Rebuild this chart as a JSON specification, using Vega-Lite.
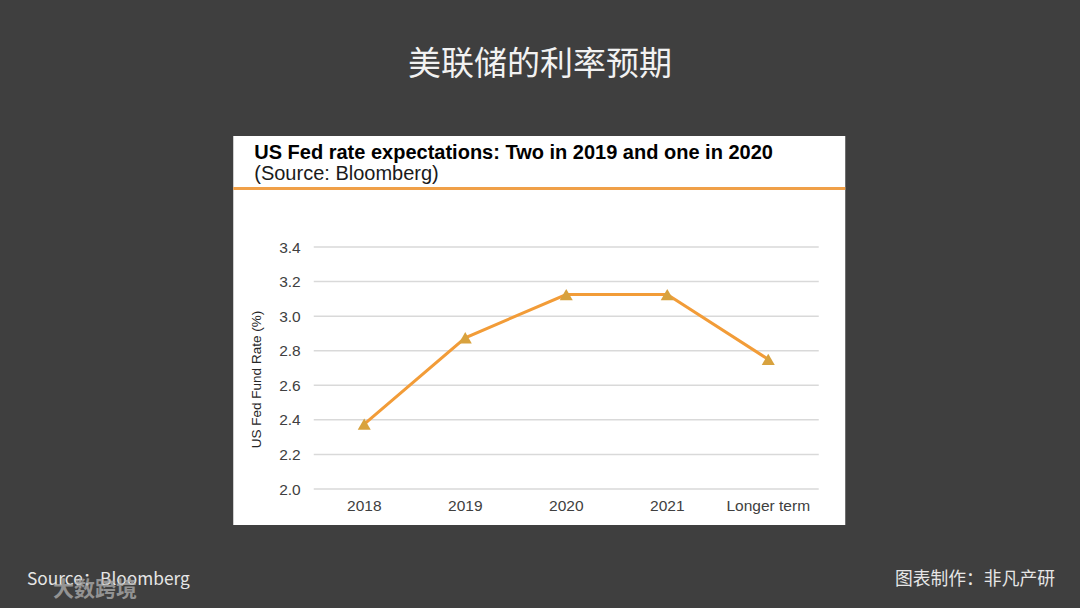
{
  "$schema": "https://vega.github.io/schema/vega-lite/v6.json",
  "background": "#3f3f3f",
  "padding": {"top": 49, "left": 0, "right": 0, "bottom": 20},
  "title": {
    "text": "美联储的利率预期",
    "font": "Noto Sans CJK SC",
    "fontSize": 33,
    "fontWeight": "normal",
    "color": "#f2f2f2",
    "anchor": "middle",
    "offset": 54
  },
  "datasets": {
    "rates": [
      {"period": "2018", "rate": 2.375},
      {"period": "2019", "rate": 2.875},
      {"period": "2020", "rate": 3.125},
      {"period": "2021", "rate": 3.125},
      {"period": "Longer term", "rate": 2.75}
    ],
    "grid": [
      {"level": 2.0}, {"level": 2.2}, {"level": 2.4}, {"level": 2.6},
      {"level": 2.8}, {"level": 3.0}, {"level": 3.2}, {"level": 3.4}
    ],
    "footer": [
      {"side": "left", "label": "Source：Bloomberg"},
      {"side": "right", "label": "图表制作：非凡产研"}
    ]
  },
  "spacing": 45,
  "center": true,
  "vconcat": [
    {
      "width": 612,
      "height": 389,
      "view": {"fill": "#ffffff", "stroke": null},
      "title": {
        "text": "US Fed rate expectations: Two in 2019 and one in 2020",
        "subtitle": "(Source: Bloomberg)",
        "anchor": "start",
        "frame": "group",
        "offset": -48,
        "dx": 21,
        "font": "Liberation Sans",
        "fontSize": 20,
        "fontWeight": "bold",
        "color": "#000000",
        "subtitleFont": "Liberation Sans",
        "subtitleFontSize": 20,
        "subtitleColor": "#1a1a1a",
        "subtitlePadding": 1
      },
      "layer": [
        {
          "data": {"name": "grid"},
          "mark": {"type": "rule", "color": "#d9d9d9", "strokeWidth": 1.5},
          "encoding": {
            "y": {
              "field": "level", "type": "quantitative",
              "scale": {"domain": [2.0, 3.4], "range": [353, 111], "nice": false, "zero": false},
              "axis": {
                "values": [2.0, 2.2, 2.4, 2.6, 2.8, 3.0, 3.2, 3.4],
                "format": ".1f", "offset": -81, "labelPadding": 14,
                "domain": false, "ticks": false, "grid": false,
                "labelFont": "Liberation Sans", "labelFontSize": 15.5, "labelColor": "#404040",
                "title": "US Fed Fund Rate (%)", "titleFont": "Liberation Sans", "titleFontSize": 13.5,
                "titleFontWeight": "normal", "titleColor": "#262626", "titlePadding": 15, "titleY": 243
              }
            },
            "x": {
              "datum": "2018", "type": "nominal", "bandPosition": 0,
              "scale": {"type": "band", "domain": ["2018", "2019", "2020", "2021", "Longer term"], "range": [80.5, 585.5], "paddingInner": 0, "paddingOuter": 0}
            },
            "x2": {"datum": "Longer term", "bandPosition": 1}
          }
        },
        {
          "data": {"values": [{}]},
          "mark": {"type": "rule", "color": "#F0A048", "strokeWidth": 3},
          "encoding": {"y": {"datum": 3.738, "type": "quantitative"}}
        },
        {
          "data": {"name": "rates"},
          "mark": {"type": "line", "color": "#F29C38", "strokeWidth": 3},
          "encoding": {
            "x": {
              "field": "period", "type": "nominal", "bandPosition": 0.5,
              "axis": {
                "offset": -36, "labelPadding": 16, "domain": false, "ticks": false, "grid": false,
                "labelAngle": 0, "labelAlign": "center", "bandPosition": 0.5,
                "labelFont": "Liberation Sans", "labelFontSize": 15.5, "labelColor": "#404040",
                "title": null
              }
            },
            "y": {"field": "rate", "type": "quantitative"}
          }
        },
        {
          "data": {"name": "rates"},
          "mark": {"type": "point", "shape": "triangle-up", "filled": true, "opacity": 1, "color": "#D8A23E", "size": 170},
          "encoding": {
            "x": {"field": "period", "type": "nominal", "bandPosition": 0.5},
            "y": {"field": "rate", "type": "quantitative"}
          }
        }
      ]
    },
    {
      "width": 1080,
      "height": 20,
      "layer": [
        {
          "data": {"name": "footer"},
          "transform": [{"filter": "datum.side == 'left'"}],
          "mark": {"type": "text", "align": "left", "baseline": "middle", "font": "Noto Sans CJK SC", "fontSize": 17.3, "color": "#e6e6e6"},
          "encoding": {
            "x": {"field": "side", "type": "nominal", "scale": {"type": "point", "domain": ["left", "right"], "range": [27, 1055], "padding": 0}, "axis": null},
            "text": {"field": "label"}
          }
        },
        {
          "data": {"name": "footer"},
          "transform": [{"filter": "datum.side == 'right'"}],
          "mark": {"type": "text", "align": "right", "baseline": "middle", "font": "Noto Sans CJK SC", "fontSize": 17.8, "color": "#e6e6e6"},
          "encoding": {
            "x": {"field": "side", "type": "nominal"},
            "text": {"field": "label"}
          }
        },
        {
          "data": {"values": [{"side": "left", "label": "大数跨境"}]},
          "mark": {"type": "text", "align": "left", "baseline": "middle", "dx": 26, "dy": 10, "font": "Noto Sans CJK SC", "fontSize": 21, "fontWeight": "bold", "color": "#b0b0b0", "opacity": 0.75},
          "encoding": {
            "x": {"field": "side", "type": "nominal"},
            "text": {"field": "label"}
          }
        }
      ]
    }
  ],
  "config": {"view": {"stroke": null}}
}
